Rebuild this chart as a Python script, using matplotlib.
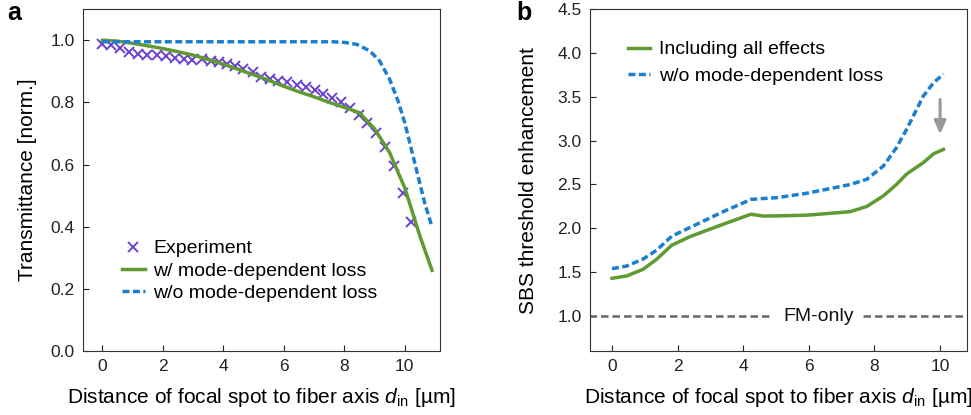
import numpy as np
import matplotlib
matplotlib.use("Agg")
import matplotlib.pyplot as plt

plt.rcParams['font.family'] = ['Liberation Sans', 'DejaVu Sans']
plt.rcParams['mathtext.fontset'] = 'custom'
plt.rcParams['mathtext.it'] = 'Liberation Sans:italic'
plt.rcParams['mathtext.rm'] = 'Liberation Sans'

# ---- panel a: transmittance ----
exp_x = [0.0, 0.28, 0.58, 0.88, 1.19, 1.49, 1.80, 2.09, 2.40, 2.70, 2.98, 3.28,
         3.58, 3.87, 4.11, 4.38, 4.66, 4.97, 5.26, 5.54, 5.81, 6.12, 6.42, 6.72,
         7.03, 7.30, 7.60, 7.89, 8.18, 8.48, 8.76, 9.06, 9.36, 9.65, 9.94, 10.22]
exp_t = [0.989, 0.984, 0.975, 0.962, 0.956, 0.954, 0.952, 0.948, 0.943, 0.940,
         0.935, 0.938, 0.934, 0.929, 0.922, 0.916, 0.908, 0.897, 0.882, 0.876,
         0.870, 0.865, 0.857, 0.848, 0.839, 0.827, 0.814, 0.801, 0.782, 0.760,
         0.735, 0.701, 0.658, 0.594, 0.510, 0.414]

sim_x = [0, 0.5, 1, 1.5, 2, 2.5, 3, 3.5, 4, 4.5, 5, 5.5, 6, 6.5, 7, 7.5, 8,
         8.5, 9, 9.5, 10, 10.5, 10.9]
sim_t = [1.0, 0.997, 0.99, 0.982, 0.973, 0.963, 0.952, 0.938, 0.923, 0.906,
         0.889, 0.871, 0.852, 0.834, 0.818, 0.800, 0.784, 0.767, 0.715, 0.638,
         0.525, 0.37, 0.26]

nol_x = [0, 2, 4, 6, 7.0, 7.63, 8.0, 8.40, 8.84, 9.17, 9.50, 9.78, 10.0,
         10.22, 10.44, 10.66, 10.88]
nol_t = [0.995, 0.995, 0.995, 0.995, 0.995, 0.995, 0.993, 0.987, 0.966, 0.933,
         0.874, 0.804, 0.734, 0.648, 0.562, 0.476, 0.406]

# ---- panel b: SBS threshold enhancement ----
sbs_x = [0, 0.45, 0.95, 1.36, 1.82, 2.38, 3.39, 4.24, 4.61, 5.03, 5.94, 7.26,
         7.77, 8.27, 8.67, 8.98, 9.49, 9.80, 10.1]
sbs_all = [1.43, 1.457, 1.533, 1.647, 1.807, 1.906, 2.047, 2.161, 2.14, 2.142,
           2.15, 2.19, 2.25, 2.37, 2.50, 2.62, 2.75, 2.85, 2.90]
sbs_nol = [1.54, 1.57, 1.65, 1.75, 1.91, 2.01, 2.19, 2.33, 2.34, 2.35,
           2.40, 2.50, 2.56, 2.71, 2.92, 3.13, 3.51, 3.66, 3.76]

fm_only = 1.0

green = '#5f9a32'
blue = '#1a7fd0'
purple = '#6b42d0'
grey = '#666666'

fig = plt.figure(figsize=(9.71, 4.15), dpi=100)
axa = fig.add_axes([0.0855, 0.154, 0.3675, 0.824])
axb = fig.add_axes([0.6076, 0.154, 0.3883, 0.824])

xlab = r'Distance of focal spot to fiber axis $d_{\mathrm{in}}$ [µm]'
for ax in (axa, axb):
    ax.tick_params(direction='in', length=4, labelsize=12.5, colors='#222222', pad=6)
    for s in ax.spines.values():
        s.set_color('#333333')
    ax.set_xticks([0, 2, 4, 6, 8, 10])
    ax.set_xlabel(xlab, fontsize=15, labelpad=8)

axa.plot(exp_x, exp_t, 'x', color=purple, ms=7, mew=1.4, label='Experiment')
axa.plot(sim_x, sim_t, '-', color=green, lw=2.5, label='w/ mode-dependent loss')
axa.plot(nol_x, nol_t, '--', color=blue, lw=2.5, dashes=(2, 1),
         label='w/o mode-dependent loss')
axa.set_xlim(-0.64, 11.16)
axa.set_ylim(0, 1.1)
axa.set_yticks([0, 0.2, 0.4, 0.6, 0.8, 1.0])
axa.set_yticklabels(['0.0', '0.2', '0.4', '0.6', '0.8', '1.0'])
axa.set_ylabel('Transmittance [norm.]', fontsize=15, labelpad=10)
axa.legend(loc='lower left', bbox_to_anchor=(0.088, 0.12), frameon=False,
           fontsize=14, handlelength=1.15, handletextpad=0.45, labelspacing=0.25,
           borderaxespad=0)

axb.plot(sbs_x, sbs_all, '-', color=green, lw=2.5, label='Including all effects')
axb.plot(sbs_x, sbs_nol, '--', color=blue, lw=2.5, dashes=(2, 1),
         label='w/o mode-dependent loss')
axb.plot([-0.7, 4.9], [fm_only, fm_only], '--', color=grey, lw=1.8, dashes=(3, 1.6))
axb.plot([7.65, 10.9], [fm_only, fm_only], '--', color=grey, lw=1.8, dashes=(3, 1.6))
axb.text(6.3, fm_only, 'FM-only', fontsize=14, ha='center', va='center', color='#111111')
axb.annotate('', xy=(10, 3.04), xytext=(10, 3.5),
             arrowprops=dict(arrowstyle='-|>,head_width=0.35,head_length=0.8',
                             color='#999999', lw=2.2))
axb.set_xlim(-0.67, 10.82)
axb.set_ylim(0.6, 4.5)
axb.set_yticks([1.0, 1.5, 2.0, 2.5, 3.0, 3.5, 4.0, 4.5])
axb.set_ylabel('SBS threshold enhancement', fontsize=15, labelpad=14)
axb.legend(loc='upper left', bbox_to_anchor=(0.08, 0.93), frameon=False,
           fontsize=14, handlelength=1.15, handletextpad=0.45, labelspacing=0.45,
           borderaxespad=0)

fig.text(0.007, 0.997, 'a', fontsize=18, fontweight='bold', va='top')
fig.text(0.532, 0.997, 'b', fontsize=18, fontweight='bold', va='top')

fig.savefig('out.png', dpi=100)
